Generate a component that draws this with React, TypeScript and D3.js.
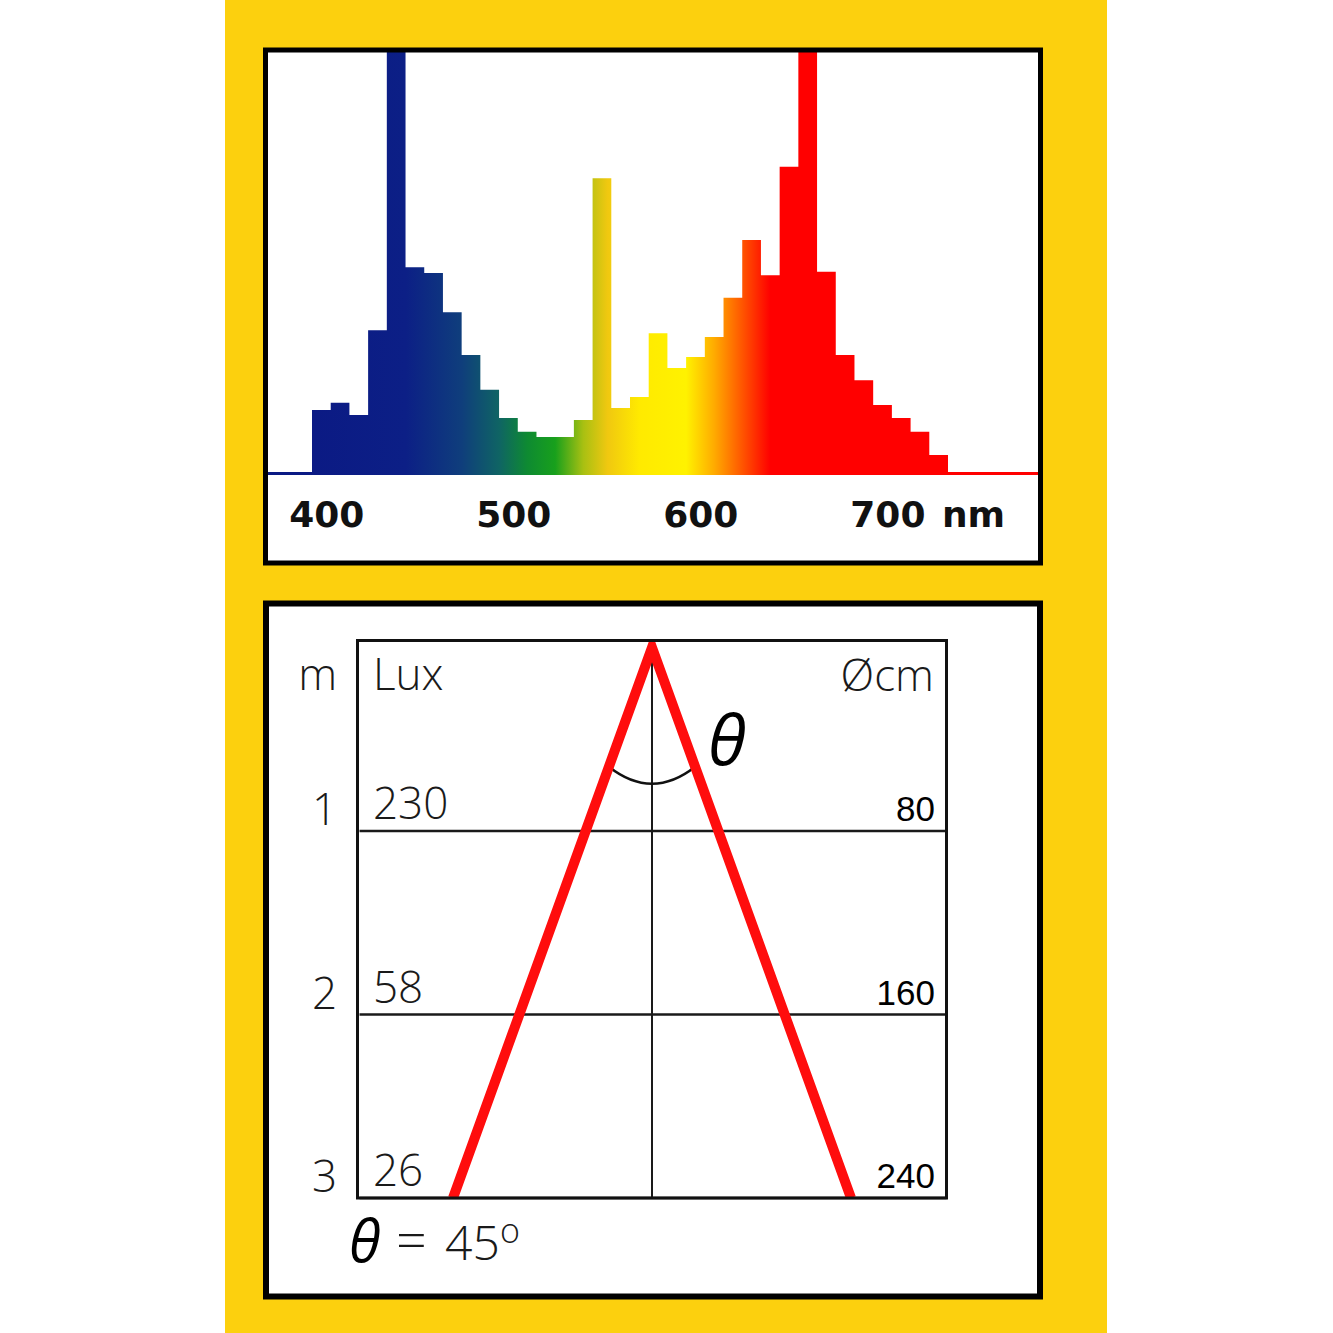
import React, { useEffect, useRef } from 'react';
import * as d3 from 'd3';

// Spectrum: 10 nm bins (start wavelength) and relative intensity (%)
const binStarts = [
  390, 400, 410, 420, 430, 440, 450, 460, 470, 480, 490, 500, 510, 520, 530, 540, 550,
  560, 570, 580, 590, 600, 610, 620, 630, 640, 650, 660, 670, 680, 690, 700, 710, 720,
];
const intensity = [
  15.0, 16.7, 13.8, 34.0, 110, 49.0, 47.6, 38.3, 28.1, 19.8, 13.1, 9.8, 8.6, 8.6, 12.6, 70.2, 15.5,
  18.1, 33.3, 25.0, 27.6, 32.4, 41.7, 55.5, 47.1, 72.9, 110, 47.9, 28.1, 22.1, 16.2, 13.1, 9.8, 4.3,
];
const binWidth = 10;
const wavelengthTicks = [400, 500, 600, 700];

// Light cone: distance (m), illuminance (Lux), spot diameter (cm)
const distances = [1, 2, 3];
const luxValues = [230, 58, 26];
const diameters = [80, 160, 240];
const beamAngle = 45;

// colour of the spectrum by wavelength
const spectrumStops: [number, string][] = [
  [390, '#0b1a84'], [440, '#0c1f86'], [470, '#0f3e7c'], [490, '#0f6464'],
  [505, '#0e8a32'], [520, '#18a01c'], [535, '#a8c012'], [548, '#f0c810'],
  [565, '#ffea00'], [590, '#fff200'], [605, '#ffab00'], [622, '#ff4a00'],
  [635, '#ff0000'], [730, '#ff0000'],
];

const YELLOW = '#fcd00e';
const THIN = "'Open Sans', 'Liberation Sans', sans-serif";

export default function App() {
  const svgRef = useRef<SVGSVGElement | null>(null);

  useEffect(() => {
    if (!svgRef.current) return;
    const svg = d3.select(svgRef.current);
    svg.selectAll('*').remove();

    const width = 1333;
    const height = 1333;
    svg.attr('width', width).attr('height', height).attr('viewBox', `0 0 ${width} ${height}`);

    svg.append('rect').attr('width', width).attr('height', height).attr('fill', '#fff');
    svg.append('rect').attr('x', 225).attr('y', 0).attr('width', 882).attr('height', height).attr('fill', YELLOW);

    const defs = svg.append('defs');

    // ---------- Spectrum panel ----------
    const x = d3.scaleLinear().domain([390, 730]).range([312, 948]);
    const y = d3.scaleLinear().domain([0, 100]).range([473, 53]);

    const grad = defs.append('linearGradient')
      .attr('id', 'spec')
      .attr('gradientUnits', 'userSpaceOnUse')
      .attr('x1', x(390)).attr('x2', x(730)).attr('y1', 0).attr('y2', 0);
    spectrumStops.forEach(([nm, c]) => {
      grad.append('stop').attr('offset', (nm - 390) / 340).attr('stop-color', c);
    });

    defs.append('clipPath').attr('id', 'specClip')
      .append('rect').attr('x', 268).attr('y', 52).attr('width', 770).attr('height', 430);

    svg.append('rect')
      .attr('x', 265.5).attr('y', 50).attr('width', 775).attr('height', 513)
      .attr('fill', '#fff');

    const pts = binStarts.map((s, i) => ({ nm: s, v: intensity[i] }));
    pts.push({ nm: binStarts[binStarts.length - 1] + binWidth, v: intensity[intensity.length - 1] });

    const area = d3.area<{ nm: number; v: number }>()
      .x(d => x(d.nm))
      .y0(y(0))
      .y1(d => y(d.v))
      .curve(d3.curveStepAfter);

    const sg = svg.append('g').attr('clip-path', 'url(#specClip)');
    sg.append('path').datum(pts).attr('d', area).attr('fill', 'url(#spec)');
    sg.append('line')
      .attr('x1', 268).attr('x2', 1038)
      .attr('y1', y(0) + 0.5).attr('y2', y(0) + 0.5)
      .attr('stroke', 'url(#spec)').attr('stroke-width', 3);

    svg.append('rect')
      .attr('x', 265.5).attr('y', 50).attr('width', 775).attr('height', 513)
      .attr('fill', 'none').attr('stroke', '#000').attr('stroke-width', 5);

    const tickG = svg.append('g')
      .attr('font-family', "'DejaVu Sans', Verdana, sans-serif")
      .attr('font-weight', 'bold').attr('font-size', 36).attr('fill', '#111');
    wavelengthTicks.forEach(t => {
      tickG.append('text').attr('x', x(t) - 4).attr('y', 527)
        .attr('text-anchor', 'middle').text(t);
    });
    tickG.append('text').attr('x', x(700) + 50).attr('y', 527).text('nm');

    // ---------- Light cone panel ----------
    svg.append('rect')
      .attr('x', 266).attr('y', 603.5).attr('width', 774).attr('height', 693)
      .attr('fill', '#fff').attr('stroke', '#000').attr('stroke-width', 6);

    const yd = d3.scaleLinear().domain([0, 3]).range([647.5, 1198]);
    const xc = d3.scaleLinear().domain([-120, 120]).range([453, 851]);

    const boxL = 357.5;
    const boxR = 946.5;
    const boxT = 640.5;

    defs.append('clipPath').attr('id', 'boxClip')
      .append('rect').attr('x', boxL).attr('y', boxT).attr('width', boxR - boxL).attr('height', yd(3) - boxT);

    const cg = svg.append('g');

    // grid lines
    distances.forEach(d => {
      cg.append('line')
        .attr('x1', boxL + 2).attr('x2', boxR)
        .attr('y1', yd(d)).attr('y2', yd(d))
        .attr('stroke', '#1a1a1a').attr('stroke-width', 2.5);
    });
    cg.append('line')
      .attr('x1', xc(0)).attr('x2', xc(0))
      .attr('y1', boxT).attr('y2', yd(3))
      .attr('stroke', '#1a1a1a').attr('stroke-width', 2);

    // angle arc
    const arcD = 0.65;
    const arcR = (diameters[0] / 2) * arcD;
    const ap = d3.path();
    ap.moveTo(xc(-arcR), yd(arcD));
    ap.quadraticCurveTo(xc(0), yd(arcD) + 34, xc(arcR), yd(arcD));
    cg.append('path').attr('d', ap.toString())
      .attr('fill', 'none').attr('stroke', '#111').attr('stroke-width', 2.5);

    // cone
    const conePts = [
      ...distances.map((d, i) => ({ d, r: -diameters[i] / 2 })).reverse(),
      { d: 0, r: 0 },
      ...distances.map((d, i) => ({ d, r: diameters[i] / 2 })),
    ];
    const coneLine = d3.line<{ d: number; r: number }>()
      .x(p => xc(p.r))
      .y(p => yd(p.d));
    cg.append('path').datum(conePts)
      .attr('clip-path', 'url(#boxClip)')
      .attr('d', coneLine)
      .attr('fill', 'none').attr('stroke', '#ff0d0d')
      .attr('stroke-width', 10).attr('stroke-linejoin', 'miter').attr('stroke-miterlimit', 10);

    // frame
    cg.append('rect')
      .attr('x', boxL).attr('y', boxT).attr('width', boxR - boxL).attr('height', yd(3) - boxT)
      .attr('fill', 'none').attr('stroke', '#111').attr('stroke-width', 3);

    // labels
    const lg = svg.append('g')
      .attr('font-family', THIN).attr('font-weight', 300).attr('font-size', 44).attr('fill', '#1a1a1a');
    lg.append('text').attr('x', 337).attr('y', 690).attr('text-anchor', 'end').text('m');
    lg.append('text').attr('x', 373).attr('y', 690).text('Lux');
    lg.append('text').attr('x', 934).attr('y', 691).attr('text-anchor', 'end').text('Øcm');

    distances.forEach((d, i) => {
      lg.append('text').attr('x', 337).attr('y', yd(d) - 6).attr('text-anchor', 'end').text(d);
      lg.append('text').attr('x', 373).attr('y', yd(d) - 12).text(luxValues[i]);
    });

    const dg = svg.append('g')
      .attr('font-family', "'Liberation Sans', Arial, sans-serif")
      .attr('font-size', 35).attr('fill', '#000');
    distances.forEach((d, i) => {
      dg.append('text').attr('x', 935).attr('y', yd(d) - 10).attr('text-anchor', 'end').text(diameters[i]);
    });

    // theta labels
    const tg = svg.append('g')
      .attr('font-family', THIN)
      .attr('font-style', 'italic').attr('font-weight', 400).attr('fill', '#000');
    tg.append('text').attr('x', 708).attr('y', 765).attr('font-size', 70).text('θ');
    tg.append('text').attr('x', 349).attr('y', 1262).attr('font-size', 58).text('θ');

    lg.append('text').attr('x', 396).attr('y', 1259).attr('font-size', 54).text('=');
    lg.append('text').attr('x', 445).attr('y', 1260).attr('font-size', 48).text(beamAngle);
    lg.append('text').attr('x', 500).attr('y', 1243).attr('font-size', 34).text('o');
  }, []);

  return (
    <div style={{ position: 'absolute', left: 0, top: 0 }}>
      <svg ref={svgRef} style={{ display: 'block' }}></svg>
    </div>
  );
}
